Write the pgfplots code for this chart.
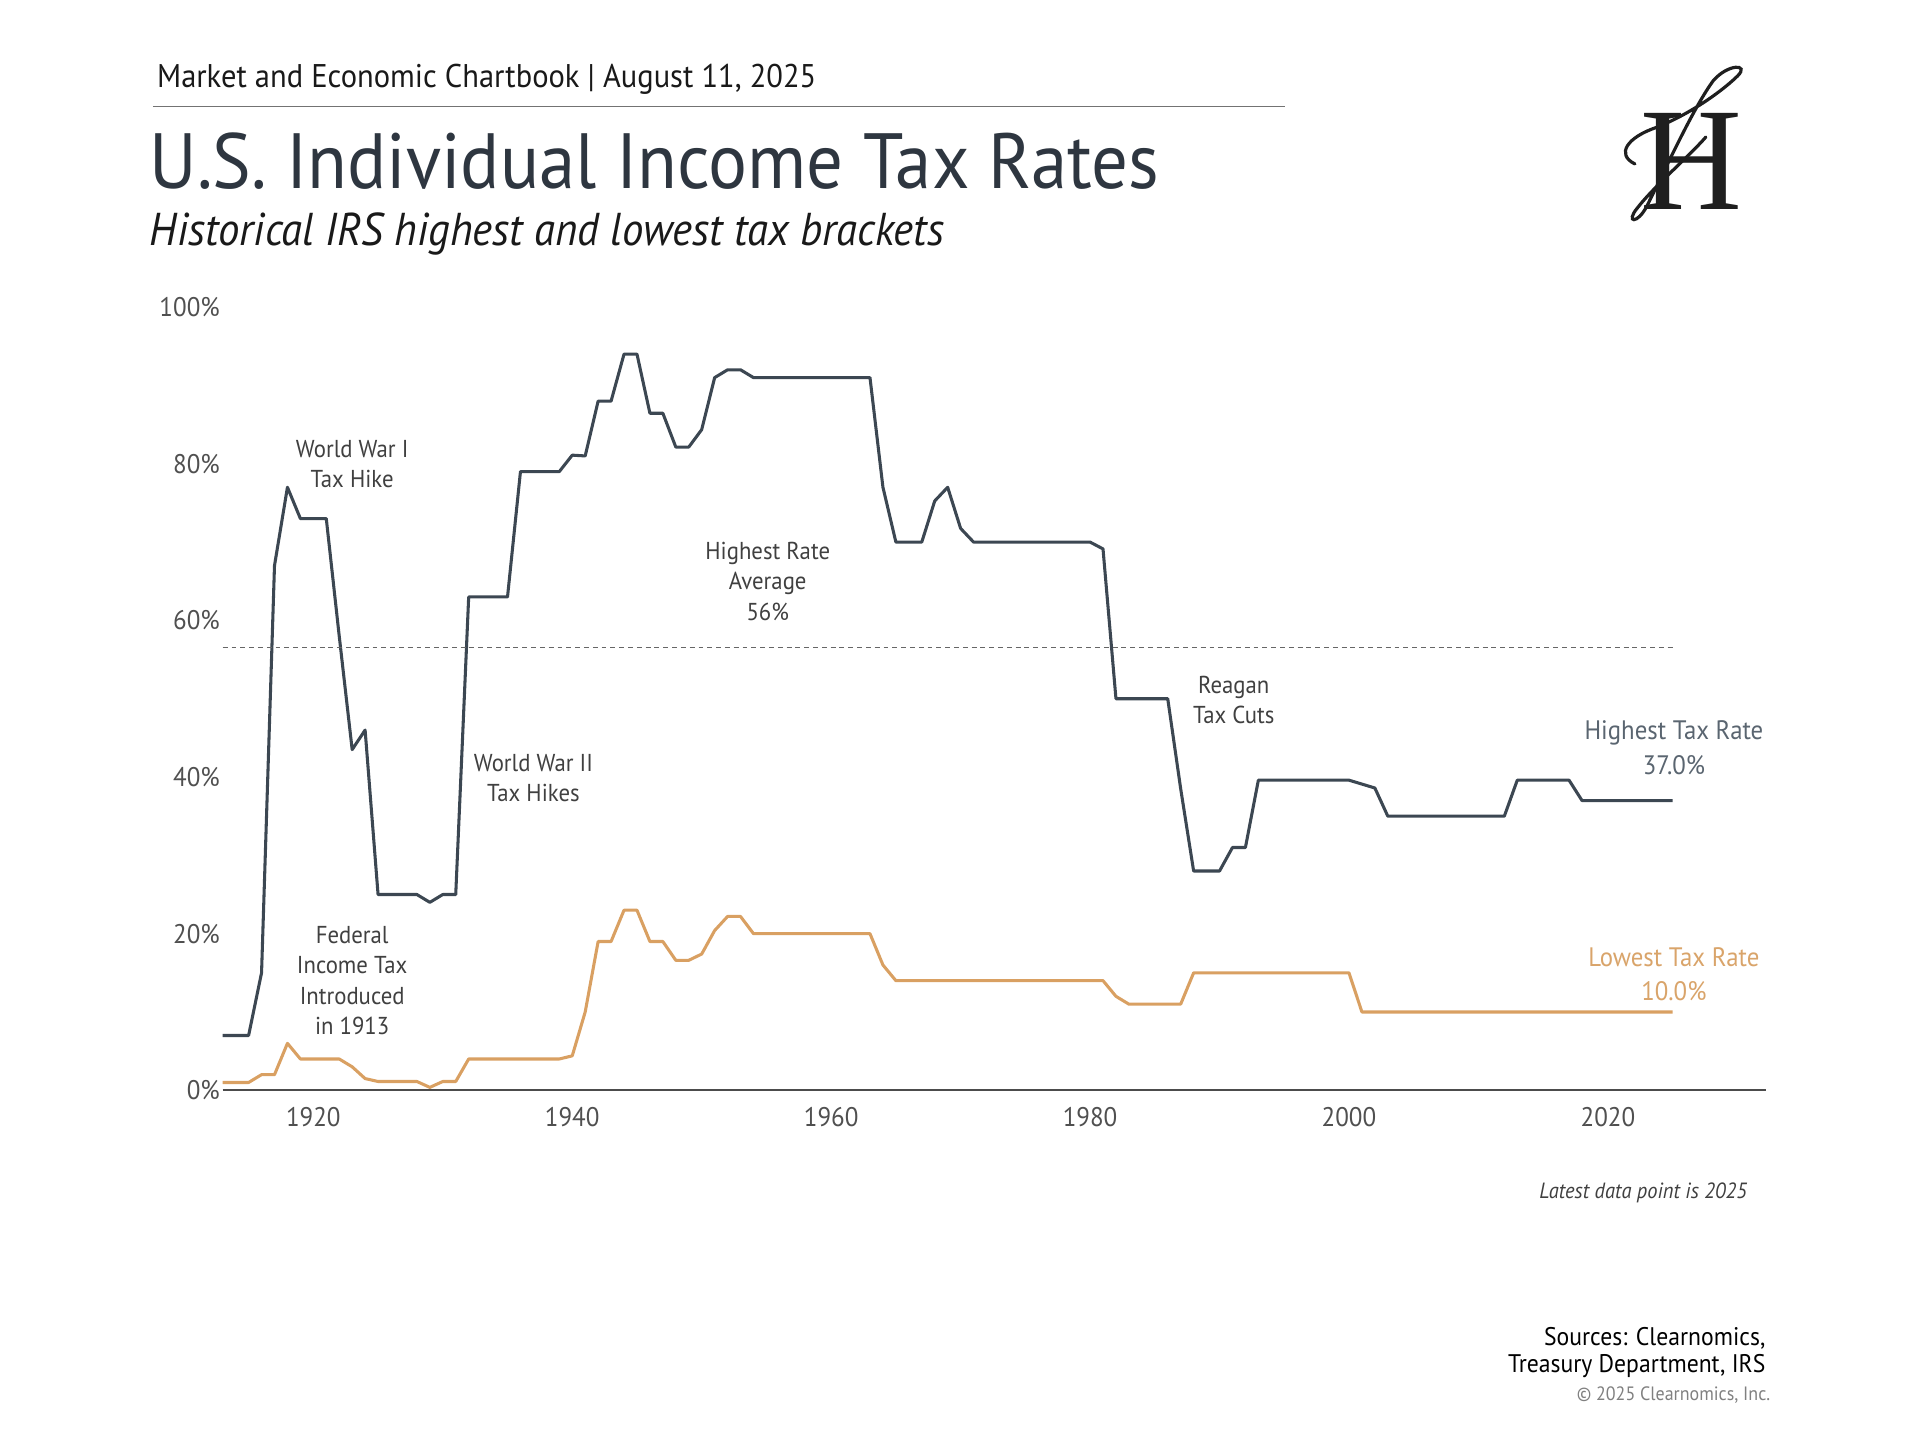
\documentclass[border=0pt]{standalone}
\usepackage{pgfplots}
\pgfplotsset{compat=1.18}
\usepackage{pgfplotstable}
\usepackage{fontspec}
\setmainfont{PT Sans}[FakeStretch=0.93]
\newfontfamily\logofont{Liberation Serif}
\definecolor{hiline}{HTML}{3C4752}
\definecolor{loline}{HTML}{D9A062}
\definecolor{hilab}{HTML}{5A6570}
\definecolor{lolab}{HTML}{D9A46A}
\definecolor{titlec}{HTML}{2E3640}
\definecolor{anno}{HTML}{404040}
\definecolor{tickc}{HTML}{505050}

\pgfplotstableread{
year rate
1913 7
1914 7
1915 7
1916 15
1917 67
1918 77
1919 73
1920 73
1921 73
1922 58
1923 43.5
1924 46
1925 25
1926 25
1927 25
1928 25
1929 24
1930 25
1931 25
1932 63
1933 63
1934 63
1935 63
1936 79
1937 79
1938 79
1939 79
1940 81.1
1941 81
1942 88
1943 88
1944 94
1945 94
1946 86.45
1947 86.45
1948 82.13
1949 82.13
1950 84.36
1951 91
1952 92
1953 92
1954 91
1955 91
1956 91
1957 91
1958 91
1959 91
1960 91
1961 91
1962 91
1963 91
1964 77
1965 70
1966 70
1967 70
1968 75.25
1969 77
1970 71.75
1971 70
1972 70
1973 70
1974 70
1975 70
1976 70
1977 70
1978 70
1979 70
1980 70
1981 69.13
1982 50
1983 50
1984 50
1985 50
1986 50
1987 38.5
1988 28
1989 28
1990 28
1991 31
1992 31
1993 39.6
1994 39.6
1995 39.6
1996 39.6
1997 39.6
1998 39.6
1999 39.6
2000 39.6
2001 39.1
2002 38.6
2003 35
2004 35
2005 35
2006 35
2007 35
2008 35
2009 35
2010 35
2011 35
2012 35
2013 39.6
2014 39.6
2015 39.6
2016 39.6
2017 39.6
2018 37
2019 37
2020 37
2021 37
2022 37
2023 37
2024 37
2025 37
}\hightable

\pgfplotstableread{
year rate
1913 1
1914 1
1915 1
1916 2
1917 2
1918 6
1919 4
1920 4
1921 4
1922 4
1923 3
1924 1.5
1925 1.125
1926 1.125
1927 1.125
1928 1.125
1929 0.375
1930 1.125
1931 1.125
1932 4
1933 4
1934 4
1935 4
1936 4
1937 4
1938 4
1939 4
1940 4.4
1941 10
1942 19
1943 19
1944 23
1945 23
1946 19
1947 19
1948 16.6
1949 16.6
1950 17.4
1951 20.4
1952 22.2
1953 22.2
1954 20
1955 20
1956 20
1957 20
1958 20
1959 20
1960 20
1961 20
1962 20
1963 20
1964 16
1965 14
1966 14
1967 14
1968 14
1969 14
1970 14
1971 14
1972 14
1973 14
1974 14
1975 14
1976 14
1977 14
1978 14
1979 14
1980 14
1981 14
1982 12
1983 11
1984 11
1985 11
1986 11
1987 11
1988 15
1989 15
1990 15
1991 15
1992 15
1993 15
1994 15
1995 15
1996 15
1997 15
1998 15
1999 15
2000 15
2001 10
2002 10
2003 10
2004 10
2005 10
2006 10
2007 10
2008 10
2009 10
2010 10
2011 10
2012 10
2013 10
2014 10
2015 10
2016 10
2017 10
2018 10
2019 10
2020 10
2021 10
2022 10
2023 10
2024 10
2025 10
}\lowtable

\begin{document}
\begin{tikzpicture}[x=1pt,y=1pt]
\path[use as bounding box] (0,0) rectangle (784.5,588.4);

% header
\node[anchor=west, inner sep=0pt, font=\fontsize{13.4}{16}\selectfont, text=black!90] at (64,555.9) {Market and Economic Chartbook | August 11, 2025};
\draw[black!55, line width=0.5pt] (62.5,544.9) -- (525,544.9);
\node[anchor=west, inner sep=0pt, font=\fontsize{32}{36}\selectfont, text=titlec] at (61,522.4) {U.S. Individual Income Tax Rates};
\node[anchor=west, inner sep=0pt, font=\fontsize{18.8}{20}\selectfont\itshape, text=black!90] at (61,492.9) {Historical IRS highest and lowest tax brackets};

% logo
\node[inner sep=0pt, font=\logofont\fontsize{60}{60}\selectfont, text=black!88] at (691,522.4) {\scalebox{0.96}[1]{H}};
\begin{scope}[yshift=12.4pt]
\draw[line width=1.3pt, line cap=round, black!88] (668,509) .. controls (660,513) and (665,520) .. (677,524) .. controls (692,530) and (705,540) .. (710,545) .. controls (715,550) and (706,550) .. (700,543) .. controls (692,532) and (682,510) .. (673,492) .. controls (669,484) and (664,485) .. (669,491) .. controls (676,500) and (690,512) .. (697,520);
\end{scope}

\begin{axis}[
  at={(91pt,142.9pt)}, anchor=south west,
  scale only axis, width=630.5pt, height=320pt,
  xmin=1913, xmax=2032.2, ymin=0, ymax=100,
  clip=false,
  axis x line*=bottom, axis y line*=left,
  y axis line style={draw=none},
  x axis line style={-, draw=black!70, line width=0.75pt},
  major tick length=0pt,
  xtick={1920,1940,...,2020},
  ytick={0,20,...,100},
  /pgf/number format/assume math mode=true,
  x tick label style={/pgf/number format/1000 sep={}},
  yticklabel={\pgfmathprintnumber{\tick}\%},
  tick label style={font=\fontsize{11}{12}\selectfont, text=tickc},
  y tick label style={inner xsep=1pt},
  x tick label style={yshift=-3.5pt},
]
\addplot[hiline, line width=1.25pt, line join=round] table[x=year,y=rate] {\hightable};
\addplot[loline, line width=1.25pt, line join=round] table[x=year,y=rate] {\lowtable};
\addplot[black!60, line width=0.6pt, dash pattern=on 2pt off 1.6pt] coordinates {(1913,56.56) (2025,56.56)};

\begin{scope}[every node/.style={align=center, font=\fontsize{10}{12.4}\selectfont, text=anno}]
\node at (axis cs:1923,80) {World War I\\Tax Hike};
\node at (axis cs:1955.1,65) {Highest Rate\\Average\\56\%};
\node at (axis cs:1937,39.9) {World War II\\Tax Hikes};
\node at (axis cs:1991.1,49.8) {Reagan\\Tax Cuts};
\node at (axis cs:1923,14) {Federal\\Income Tax\\Introduced\\in 1913};
\end{scope}
\node[align=center, font=\fontsize{10.9}{14}\selectfont, text=hilab] at (axis cs:2025.1,43.75) {Highest Tax Rate\\37.0\%};
\node[align=center, font=\fontsize{10.9}{14}\selectfont, text=lolab] at (axis cs:2025.1,14.84) {Lowest Tax Rate\\10.0\%};
\end{axis}

% footer
\node[anchor=east, inner sep=0pt, font=\fontsize{9}{12}\selectfont\itshape, text=anno] at (714,100.9) {Latest data point is 2025};
\node[anchor=east, inner sep=0pt, align=right, font=\fontsize{10.4}{11}\selectfont, text=black] at (721.5,35.9) {Sources: Clearnomics,\\Treasury Department, IRS};
\node[anchor=east, inner sep=0pt, font=\fontsize{7.9}{10}\selectfont, text=black!50] at (723.5,18.4) {\textcopyright{} 2025 Clearnomics, Inc.};
\end{tikzpicture}
\end{document}
